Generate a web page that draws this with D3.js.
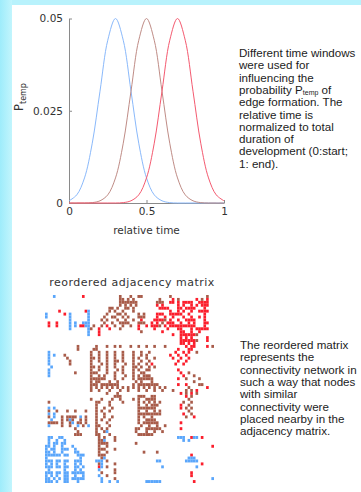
<!DOCTYPE html>
<html>
<head>
<meta charset="utf-8">
<script src="https://cdn.jsdelivr.net/npm/d3@7"></script>
<style>
  body { margin: 0; background: #fff; }
  svg { display: block; }
</style>
</head>
<body>
<div id="chart"></div>
<script>
// relative time samples and the three P_temp windows
const times = [0, 0.05, 0.1, 0.15, 0.2, 0.25, 0.3, 0.35, 0.4, 0.45, 0.5,
  0.55, 0.6, 0.65, 0.7, 0.75, 0.8, 0.85, 0.9, 0.95, 1];
const earlyWindow = [0.0006, 0.0022, 0.0068, 0.0162, 0.0303, 0.0441, 0.05, 0.0441, 0.0303, 0.0162, 0.0068,
  0.0022, 0.0006, 0.0001, 0, 0, 0, 0, 0, 0, 0];
const midWindow = [0, 0, 0, 0.0001, 0.0006, 0.0022, 0.0068, 0.0162, 0.0303, 0.0441, 0.05,
  0.0441, 0.0303, 0.0162, 0.0068, 0.0022, 0.0006, 0.0001, 0, 0, 0];
const lateWindow = [0, 0, 0, 0, 0, 0, 0, 0.0001, 0.0006, 0.0022, 0.0068,
  0.0162, 0.0303, 0.0441, 0.05, 0.0441, 0.0303, 0.0162, 0.0068, 0.0022, 0.0006];
const yTicks = [0, 0.025, 0.05];
const xTicks = [0, 0.5, 1];

// reordered adjacency matrix, 64 nodes; per row: b = early, r = mid, R = late edge
const nodeCount = 64;
const matrixRows = [
  "b3 R14 r28 r32 r35-36 r47 r61",
  "r28-29 r31 r33 r43 R48 r50 R57 r59 R61",
  "r28-34 r42-44 R47-48 R50 R52-55 R58-61",
  "r28 r30 r32 r34 R42 R44 R50 R52 R55 R57 R59-61",
  "r24-25 r27 r30-31 r33 R43-46 R50-51 R53-56 R60",
  "R5 R15 b16 r24 r26 r29 r33 R47 R50 R52 R55 R58-61",
  "b0 R7 b9 b16 r23 r27-28 r30 r35 r37 R42-44 R47-51 R54 R60",
  "b0 b9 b16 r22 r25-26 r29 r31 r35-37 R42 R45 R48 R52 R55 R58 R60",
  "b9 b16 r21 r23 r27 r30 r33 R36 R41-44 r45 R47 R50 R53-56 R60",
  "R1 R4 b9 b11 b14-16 r22 r25 r28-31 r35-37 R40 R42 r44 R46-48 R51 R54 R56 R60-61",
  "R1 R4 b9 b11 R13-14 b15-16 r18 r21 R23 r26 r29 r32 R35 R38 R40-42 r43 R45 R47-56 R60",
  "b9 b16 r17 R20 R24 r28 R35 R41 R46 R50-51 R55 R57-61",
  "b16 R20 r36 R44 R51-52 R55 R58",
  "b16 R20 R48 R51-56 r57",
  "R51 R53 R55 R61",
  "R51-56 r57 R61",
  "R51-52 R54 R56",
  "r12 r19 r23 r26 r28 r32 r35 r38 r41 r45 R53 R55-56 R61 r63",
  "r12 r18-19 R50 R54-55",
  "b1 r17 r20 r23 r26 r29 r33 r36 r39 R49 R52 R54 r57",
  "b1 b3 r7 r17 r20 r23 r26 r29 r33 r36 r38 R47 R50 R53",
  "b1 r8 r17-18 r20 r23 r26 r29 r33 r35 r38 r41 R48 R51 R54",
  "b1 r9 r17 r20 r23 r26-27 r29 r33 r36 r39 R50 R53",
  "b1 r9 r17 r21 r23 r26 r30 r33 r35 r38 R40 R49 R52",
  "b2 r17-18 r20 r23 r26 r29 r33-34 r36 r39 r41",
  "b1 r17 r20 r23 r27 r29 r33 r35 r38-39 R50",
  "b1 r11 r17-19 r23 r26 r29 r33 r36-37 R51 r54",
  "b1 r17 r20 r22 r26 r30 r33 r35 r37-39 R52 r56",
  "r17-22 r26 r29 r33 r35-40 R50 r53 r58",
  "r17 r19-20 r24 r27 r34 r36 r40 r56",
  "r17-19 r21-27 r33 r35-42 R50 R53 r58-59",
  "r17 r19 r21 r23 r25 r27 r29 r31 r33 r35 r37 r39 r41 r43 r45 r54 R61",
  "r17 r20 r24 r28 r31 r35 r38 r41 r44 r48 r53 r55 R57",
  "r23 r27 R51 r53 R55 r57",
  "r26-28 r35-37 r40-41 R53 r55",
  "r17 r21 r25 r28 r33 r35 r38-41 r54",
  "r1 r19-20 r24 r29 r35 r37 r39 r41 r43 r52 r55",
  "r19 r24 r35 r38 r40-42 R51 r54",
  "b1 b3 r19 r22 r25 r35-41 R51 r53 r55",
  "r1 r4 r8 r11 r15 r19 r21 r24 r35 r38 r41 r43 r54",
  "b1 b3 r19 r22 r35-43 R52 r55",
  "r1 b3 r6 r8-11 b13 r15 r19 r22 r25 r35 r37 r40 r53 R56",
  "b2 r6 r8 b9 r10 r13 r15 r19 r21 r24 r35 r38-41",
  "r1-4 r6 r9 b10 r12-13 r15 r19 r23 r35 r37-42 R51",
  "b1 r6 r9 b12 r14 b16 r19-20 r24 r36 r39 r42 r45",
  "r11 r19 r21 r23 r34-35 r38-43 R51",
  "r12 r19 r22 b23 r34 r38 r41 r44",
  "r11-13 r19-20 r24 r35-40",
  "b1-2 b5-6 r20 r22 r26 b50-52 R55 b56-57 R59",
  "b1 b4 b7 r20-21 b22 r26 b52 b54",
  "b1 b3-4 b6-7 r20-23 r34",
  "b0-1 b3 b6 b10 r20 r23 R63",
  "b0 b2-3 b6-8 b11 r20-22 r26",
  "b0-1 b3 b6 b11-12 r20 r23 r37 r42",
  "b0-5 b7-8 b12-14 r20-22 R55",
  "b0 b13 r21 b22 b54-56",
  "b0-2 b4-5 b7-8 b11-13 b19-21 r23 b42-43 b53-57",
  "b0 b2 b4 b7 b11 b13 r20 b21 r26 R59",
  "b0-2 b4-5 b7-8 b11-12 b14 R20 b21 r23 b44 b57",
  "b1 b7 b11 b13 b20 r26",
  "b0-2 b4-5 b7-8 b10-14 r21 r26 R55",
  "b0 b2 b4 b7-8 b11 b14 b20 r23 R55",
  "b0-1 b3 b5 b7-8 b10-14 b21 r26 b63",
  "b0-2 b4 b7-8 b12 b21 b24 b27 b38-43 R56"
];

const topNote = [
  "Different time windows",
  "were used for",
  "influencing the",
  ["probability P", "temp", " of"],
  "edge formation. The",
  "relative time is",
  "normalized to total",
  "duration of",
  "development (0:start;",
  "1: end)."
];
const bottomNote = [
  "The reordered matrix",
  "represents the",
  "connectivity network in",
  "such a way that nodes",
  "with similar",
  "connectivity were",
  "placed nearby in the",
  "adjacency matrix."
];

const width = 361, height = 492;
const colors = { b: '#5aa6fb', r: '#a85c4a', R: '#fb1e2c' };
const lineColors = ['#8ab9fb', '#bf8c86', '#f45a70'];

const svg = d3.select('#chart').append('svg')
  .attr('width', width)
  .attr('height', height);

// cyan frame on left / top
const defs = svg.append('defs');
const grad = defs.append('linearGradient').attr('id', 'edge').attr('x1', 0).attr('x2', 1);
grad.append('stop').attr('offset', 0).attr('stop-color', '#9eecfb');
grad.append('stop').attr('offset', 1).attr('stop-color', '#c2f5fd');
svg.append('rect').attr('width', width).attr('height', height).attr('fill', '#b8f2fc');
svg.append('rect').attr('width', 12).attr('height', height).attr('fill', 'url(#edge)');
svg.append('rect').attr('x', 12).attr('y', 5).attr('width', width - 12).attr('height', height - 5).attr('fill', '#fff');

// ---- line chart
const x = d3.scaleLinear().domain([0, 1]).range([69, 224]);
const y = d3.scaleLinear().domain([0, 0.05]).range([203, 18.5]);

const axisFont = 'DejaVu Sans';

const gx = svg.append('g')
  .attr('transform', `translate(0,${y(0)})`)
  .call(d3.axisBottom(x).tickValues(xTicks).tickFormat(d3.format('')).tickSizeInner(-3).tickSizeOuter(0).tickPadding(5));
const gy = svg.append('g')
  .attr('transform', `translate(${x(0)},0)`)
  .call(d3.axisLeft(y).tickValues(yTicks).tickFormat(d => d === 0 ? '0' : String(d)).tickSizeInner(-3).tickSizeOuter(0).tickPadding(6));

[gx, gy].forEach(g => {
  g.select('.domain').attr('stroke', '#8a8a8a');
  g.selectAll('.tick line').attr('stroke', '#8a8a8a');
  g.selectAll('.tick text').attr('font-family', axisFont).attr('font-size', 10.5).attr('fill', '#333');
});

const line = d3.line()
  .x((d, i) => x(times[i]))
  .y(d => y(Math.max(0, d)))
  .curve(d3.curveCatmullRom.alpha(0.5));

[earlyWindow, midWindow, lateWindow].forEach((s, i) => {
  svg.append('path')
    .attr('d', line(s))
    .attr('fill', 'none')
    .attr('stroke', lineColors[i])
    .attr('stroke-width', 1);
});

svg.append('text')
  .attr('x', (x(0) + x(1)) / 2)
  .attr('y', 234)
  .attr('text-anchor', 'middle')
  .attr('font-family', axisFont)
  .attr('font-size', 10.5)
  .attr('fill', '#333')
  .text('relative time');

const ylab = svg.append('text')
  .attr('transform', 'translate(23,97) rotate(-90)')
  .attr('text-anchor', 'middle')
  .attr('font-family', axisFont)
  .attr('font-size', 11.5)
  .attr('fill', '#333');
ylab.append('tspan').text('P');
ylab.append('tspan').attr('dy', 3).attr('font-size', 8).text('temp');

// ---- notes
function note(lines, x0, y0, step) {
  const t = svg.append('text')
    .attr('font-family', 'Liberation Sans, Arial, sans-serif')
    .attr('font-size', 11.6)
    .attr('fill', '#1c1c1c');
  lines.forEach((ln, i) => {
    if (Array.isArray(ln)) {
      t.append('tspan').attr('x', x0).attr('y', y0 + i * step).text(ln[0]);
      t.append('tspan').attr('dy', 1).attr('font-size', 7).text(ln[1]);
      t.append('tspan').attr('dy', -1).text(ln[2]);
    } else {
      t.append('tspan').attr('x', x0).attr('y', y0 + i * step).text(ln);
    }
  });
}
note(topNote, 239, 57, 12.3);
note(bottomNote, 240, 349, 12.35);

// ---- adjacency matrix
const cx = d3.scaleBand().domain(d3.range(nodeCount)).range([45, 214]);
const cy = d3.scaleBand().domain(d3.range(nodeCount)).range([295, 483]);

const cells = [];
matrixRows.forEach((row, r) => {
  row.split(' ').forEach(tok => {
    const kind = tok[0];
    const [a, b] = tok.slice(1).split('-').map(Number);
    for (let c = a; c <= (b === undefined ? a : b); c++) cells.push({ r, c, kind });
  });
});

svg.append('g')
  .selectAll('rect')
  .data(cells)
  .join('rect')
  .attr('x', d => cx(d.c))
  .attr('y', d => cy(d.r))
  .attr('width', cx.bandwidth())
  .attr('height', cy.bandwidth())
  .attr('fill', d => colors[d.kind]);

svg.append('text')
  .attr('x', 132)
  .attr('y', 286)
  .attr('text-anchor', 'middle')
  .attr('font-family', axisFont)
  .attr('font-size', 11)
  .attr('letter-spacing', 0.5)
  .attr('fill', '#333')
  .text('reordered adjacency matrix');
</script>
</body>
</html>
